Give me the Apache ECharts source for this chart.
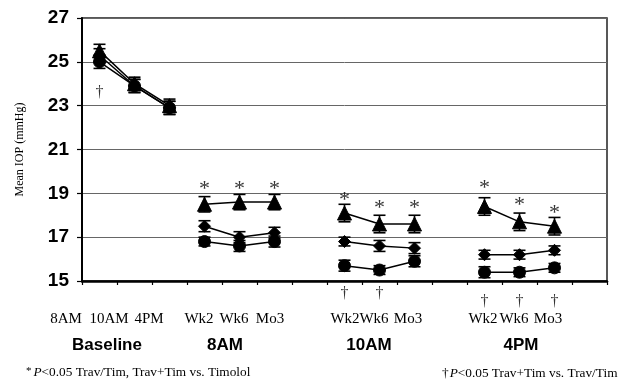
<!DOCTYPE html>
<html>
<head>
<meta charset="utf-8">
<script src="https://cdn.jsdelivr.net/npm/echarts@6/dist/echarts.min.js"></script>
<style>
  html, body { margin: 0; padding: 0; background: #fff; }
  #chart { width: 621px; height: 383px; }
</style>
</head>
<body>
<div id="chart"></div>
<script>
// 15 slots: baseline, 8AM, gap, 10AM, gap, 4PM, gap
const categories = ['B-8AM', 'B-10AM', 'B-4PM', '8AM-Wk2', '8AM-Wk6', '8AM-Mo3', 'g1',
  '10AM-Wk2', '10AM-Wk6', '10AM-Mo3', 'g2', '4PM-Wk2', '4PM-Wk6', '4PM-Mo3', 'g3']
const groups = [[0, 1, 2], [3, 4, 5], [7, 8, 9], [11, 12, 13]]

const timolol = [25.5, 24.0, 23.0, 18.5, 18.6, 18.6, null, 18.1, 17.6, 17.6, null, 18.4, 17.7, 17.5, null]
const timololErr = [0.3, 0.3, 0.3, 0.35, 0.35, 0.35, null, 0.4, 0.4, 0.4, null, 0.4, 0.4, 0.4, null]
const travTim = [25.3, 23.9, 22.9, 17.5, 17.0, 17.2, null, 16.8, 16.6, 16.5, null, 16.2, 16.2, 16.4, null]
const travTimErr = [0.3, 0.3, 0.3, 0.25, 0.25, 0.25, null, 0.2, 0.25, 0.25, null, 0.2, 0.2, 0.2, null]
const travPlusTim = [25.0, 23.9, 22.9, 16.8, 16.6, 16.8, null, 15.7, 15.5, 15.9, null, 15.4, 15.4, 15.6, null]
const travPlusTimErr = [0.3, 0.3, 0.3, 0.2, 0.25, 0.25, null, 0.25, 0.2, 0.25, null, 0.25, 0.2, 0.2, null]

// significance marks: [slot, y]
const stars = [[3, 19.1], [4, 19.1], [5, 19.1], [7, 18.6], [8, 18.25], [9, 18.25], [11, 19.15], [12, 18.35], [13, 18.0]]
const daggers = [[0, 23.6], [7, 14.4], [8, 14.4], [11, 14.05], [12, 14.05], [13, 14.05]]

const rowLabels = ['8AM', '10AM', '4PM', 'Wk2', 'Wk6', 'Mo3', 'Wk2', 'Wk6', 'Mo3', 'Wk2', 'Wk6', 'Mo3']
const rowLabelX = [66, 109, 149, 199, 234, 270, 345, 374, 408, 483, 514, 548]
const groupTitles = ['Baseline', '8AM', '10AM', '4PM']
const groupTitleX = [107, 225, 369, 521]

const chart = echarts.init(document.getElementById('chart'))

const treatments = [
  { name: 'Timolol', values: timolol, err: timololErr, symbol: 'triangle', size: 14 },
  { name: 'Trav/Tim', values: travTim, err: travTimErr, symbol: 'diamond', size: 12 },
  { name: 'Trav+Tim', values: travPlusTim, err: travPlusTimErr, symbol: 'circle', size: 12 },
]

const series = []
treatments.forEach((t) => {
  // error bars under the markers
  const bars = []
  t.values.forEach((v, i) => {
    if (v !== null) bars.push([i, v - t.err[i], v + t.err[i]])
  })
  series.push({
    type: 'custom',
    name: t.name + ' err',
    data: bars,
    z: 2,
    renderItem: (params, api) => {
      const x = api.value(0)
      const lo = api.coord([x, api.value(1)])
      const hi = api.coord([x, api.value(2)])
      const w = 6
      const style = { stroke: '#000', lineWidth: 1.6 }
      return {
        type: 'group',
        children: [
          { type: 'line', shape: { x1: lo[0], y1: lo[1], x2: hi[0], y2: hi[1] }, style },
          { type: 'line', shape: { x1: hi[0] - w, y1: hi[1], x2: hi[0] + w, y2: hi[1] }, style },
          { type: 'line', shape: { x1: lo[0] - w, y1: lo[1], x2: lo[0] + w, y2: lo[1] }, style },
        ],
      }
    },
  })
  // one line per group so the groups stay apart
  groups.forEach((g) => {
    series.push({
      type: 'line',
      name: t.name,
      data: t.values.map((v, i) => (g.includes(i) ? v : null)),
      symbol: t.symbol,
      symbolSize: t.size,
      showAllSymbol: true,
      z: 3,
      lineStyle: { color: '#000', width: 1.5 },
      itemStyle: { color: '#000', borderColor: '#000' },
      emphasis: { disabled: true },
    })
  })
})

const markSeries = (data, text, size, offset) => ({
  type: 'scatter',
  data: data,
  symbol: 'circle',
  symbolSize: 1,
  clip: false,
  z: 5,
  itemStyle: { color: 'rgba(0,0,0,0)' },
  label: {
    show: true,
    position: 'inside',
    formatter: text,
    color: '#000',
    fontFamily: 'Liberation Serif',
    fontSize: size,
    offset: offset,
  },
})
series.push(markSeries(stars, '*', 22, [0, -2]))
series.push(markSeries(daggers, '†', 16, [0, 0]))

const graphic = []
rowLabels.forEach((txt, i) => {
  graphic.push({
    type: 'text', x: rowLabelX[i], y: 319,
    style: { text: txt, font: '15px "Liberation Serif"', fill: '#000', align: 'center', verticalAlign: 'middle' },
  })
})
groupTitles.forEach((txt, i) => {
  graphic.push({
    type: 'text', x: groupTitleX[i], y: 345,
    style: { text: txt, font: 'bold 17px "Liberation Sans"', fill: '#000', align: 'center', verticalAlign: 'middle' },
  })
})
// footnotes
graphic.push({
  type: 'text', x: 26, y: 373,
  style: {
    text: '{s|*}{i|P}{t|<0.05 Trav/Tim, Trav+Tim vs. Timolol}',
    verticalAlign: 'middle',
    rich: {
      s: { font: '11px "Liberation Serif"', fill: '#000', padding: [0, 2, 4, 0] },
      i: { font: 'italic 13.3px "Liberation Serif"', fill: '#000' },
      t: { font: '13.3px "Liberation Serif"', fill: '#000' },
    },
  },
})
graphic.push({
  type: 'text', x: 442, y: 374,
  style: {
    text: '{s|†}{i|P}{t|<0.05 Trav+Tim vs. Trav/Tim}',
    verticalAlign: 'middle',
    rich: {
      s: { font: '13.3px "Liberation Serif"', fill: '#000', padding: [0, 1, 0, 0] },
      i: { font: 'italic 13.3px "Liberation Serif"', fill: '#000' },
      t: { font: '13.3px "Liberation Serif"', fill: '#000' },
    },
  },
})

chart.setOption({
  animation: false,
  grid: {
    show: true,
    left: 82,
    right: 14,
    top: 18,
    bottom: 102,
    borderColor: '#222',
    borderWidth: 1.5,
  },
  xAxis: {
    type: 'category',
    data: categories,
    boundaryGap: true,
    axisLine: { lineStyle: { color: '#000', width: 2.5 } },
    axisTick: { show: true, interval: 0, length: 4, lineStyle: { color: '#000', width: 1.2 } },
    axisLabel: { show: false },
  },
  yAxis: {
    type: 'value',
    min: 15,
    max: 27,
    interval: 2,
    name: 'Mean IOP (mmHg)',
    nameLocation: 'middle',
    nameGap: 56,
    nameTextStyle: { fontFamily: 'Liberation Serif', fontSize: 12, color: '#000' },
    axisLine: { show: true, lineStyle: { color: '#000', width: 2 } },
    axisTick: { show: true, length: 5, lineStyle: { color: '#000', width: 1.2 } },
    axisLabel: { margin: 13, fontFamily: 'Liberation Sans', fontWeight: 'bold', fontSize: 19, color: '#000' },
    splitLine: { lineStyle: { color: '#666', width: 1 } },
  },
  series: series,
  graphic: graphic,
})
</script>
</body>
</html>
